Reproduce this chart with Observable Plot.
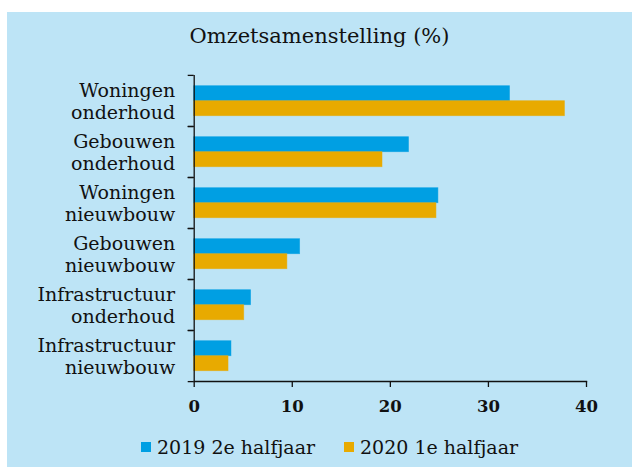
<!DOCTYPE html>
<html>
<head>
<meta charset="utf-8">
<script src="https://cdn.jsdelivr.net/npm/d3@7"></script>
<script src="https://cdn.jsdelivr.net/npm/@observablehq/plot@0.6"></script>
<style>
  html, body { margin: 0; padding: 0; background: #ffffff; }
  #card { position: absolute; left: 7px; top: 12px; width: 625px; height: 455px; background: #BDE4F6; font-family: "DejaVu Serif", serif; color: #111111; }
  #title { position: absolute; top: 11px; left: 0; width: 100%; text-align: center; font-size: 21px; line-height: 26px; }
  #chart { position: absolute; left: 0; top: 0; }
  .leg { position: absolute; top: 423px; font-size: 19px; line-height: 24px; display: flex; align-items: center; white-space: nowrap; }
  .sw { display: inline-block; width: 10px; height: 10px; margin-right: 6px; }
</style>
</head>
<body>
<div id="card">
  <div id="title"></div>
  <div id="chart"></div>
  <div id="legend"></div>
</div>
<script>
const title = "Omzetsamenstelling (%)";
const categories = ["Woningen onderhoud", "Gebouwen onderhoud", "Woningen nieuwbouw", "Gebouwen nieuwbouw", "Infrastructuur onderhoud", "Infrastructuur nieuwbouw"];
const series = ["2019 2e halfjaar", "2020 1e halfjaar"];
const values2019 = [32.2, 21.9, 24.9, 10.8, 5.8, 3.8];
const values2020 = [37.8, 19.2, 24.7, 9.5, 5.1, 3.5];
const xTicks = [0, 10, 20, 30, 40];
const colors = ["#009FE3", "#E8AA00"];

const data = [];
categories.forEach((c, i) => {
  data.push({category: c, series: series[0], value: values2019[i]});
  data.push({category: c, series: series[1], value: values2020[i]});
});

document.getElementById("title").textContent = title;

const H = 420, mTop = 62.3, mBottom = 50.3;
const step = (H - mTop - mBottom) / categories.length;

const chart = Plot.plot({
  width: 625,
  height: H,
  marginTop: mTop,
  marginBottom: mBottom,
  marginLeft: 186.7,
  marginRight: 46,
  style: {background: "transparent", fontFamily: "DejaVu Serif", fontSize: "16px", color: "#111111", overflow: "visible"},
  x: {domain: [0, 40], label: null},
  fy: {domain: categories, padding: 0, label: null},
  y: {domain: series, paddingInner: 0, paddingOuter: 0.7, axis: null},
  color: {domain: series, range: colors},
  marks: [
    Plot.barX(data, {fy: "category", y: "series", x: "value", fill: "series", stroke: "series", strokeOpacity: 0.6, strokeWidth: 0.8}),
    Plot.ruleX([0], {stroke: "#111111", strokeWidth: 1.3}),
    Plot.frame({anchor: "bottom", facetAnchor: "bottom", stroke: "#111111", strokeWidth: 1.3}),
    Plot.axisFy({anchor: "left", label: null, tickSize: 0, tickPadding: 19, tickFormat: d => d.replace(" ", "\n"), lineHeight: 1.15, fontSize: 19, fill: "#111111"}),
    Plot.axisFy({anchor: "left", label: null, tickSize: 6, tickFormat: () => "", dy: -step / 2, stroke: "#111111", strokeWidth: 1.3}),
    Plot.axisFy([categories[categories.length - 1]], {anchor: "left", label: null, tickSize: 6, tickFormat: () => "", dy: step / 2, stroke: "#111111", strokeWidth: 1.3}),
    Plot.axisX({anchor: "bottom", ticks: xTicks, tickSize: 6, tickPadding: 13, label: null, fontSize: 16.5, fontWeight: "bold", fill: "#111111", stroke: "#111111", strokeWidth: 1.3})
  ]
});
document.getElementById("chart").appendChild(chart);

const legend = document.getElementById("legend");
const legLeft = [134, 337];
series.forEach((s, i) => {
  const item = document.createElement("div");
  item.className = "leg";
  item.style.left = legLeft[i] + "px";
  const sw = document.createElement("span");
  sw.className = "sw";
  sw.style.background = colors[i];
  item.appendChild(sw);
  item.appendChild(document.createTextNode(s));
  legend.appendChild(item);
});
</script>
</body>
</html>
